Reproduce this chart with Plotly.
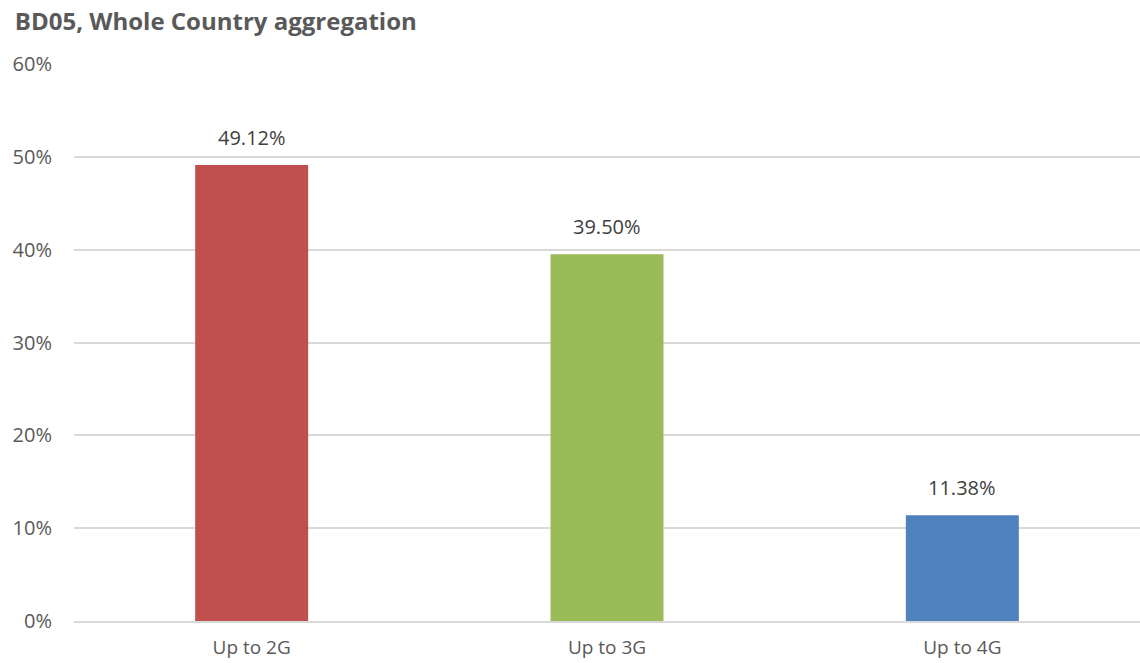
import plotly.graph_objects as go

categories = ["Up to 2G", "Up to 3G", "Up to 4G"]
values = [49.12, 39.50, 11.38]
bar_colors = ["#C0504D", "#9BBB59", "#4F81BD"]
tick_vals = [0, 10, 20, 30, 40, 50, 60]
tick_text = ["0%", "10%", "20%", "30%", "40%", "50%", "60%"]

fig = go.Figure()
fig.add_trace(go.Bar(
    x=categories, y=values,
    marker=dict(color=bar_colors, line_width=0),
    textposition="none",
))

# data labels floating a little above each bar
for c, v in zip(categories, values):
    fig.add_annotation(x=c, y=v, text=f"{v:.2f}%", showarrow=False,
                       yanchor="bottom", yshift=12,
                       font=dict(size=20, color="#404040"))

fig.update_layout(
    width=1140, height=663,
    paper_bgcolor="white", plot_bgcolor="white",
    font=dict(family="Open Sans", color="#595959"),
    title=dict(text="<b>BD05, Whole Country aggregation</b>", x=0.013, xanchor="left",
               y=0.968, yanchor="middle", font=dict(size=24, color="#595959")),
    margin=dict(l=74, r=0, t=64, b=42),
    bargap=0.682,
    showlegend=False,
)
fig.update_yaxes(range=[0, 60], tickvals=tick_vals, ticktext=tick_text,
                 showgrid=True, gridcolor="#D9D9D9", gridwidth=1.5,
                 zeroline=False, tickfont=dict(size=20, color="#595959"),
                 ticklabelstandoff=21, showline=False, automargin=False)
fig.update_xaxes(showline=True, linecolor="#D9D9D9", linewidth=1.5,
                 tickfont=dict(size=19, color="#595959"), ticks="",
                 ticklabelstandoff=8, automargin=False)

fig.write_html("out.html", config={"displayModeBar": False},
               post_script="document.body.style.margin='0';document.body.style.overflow='hidden';")
